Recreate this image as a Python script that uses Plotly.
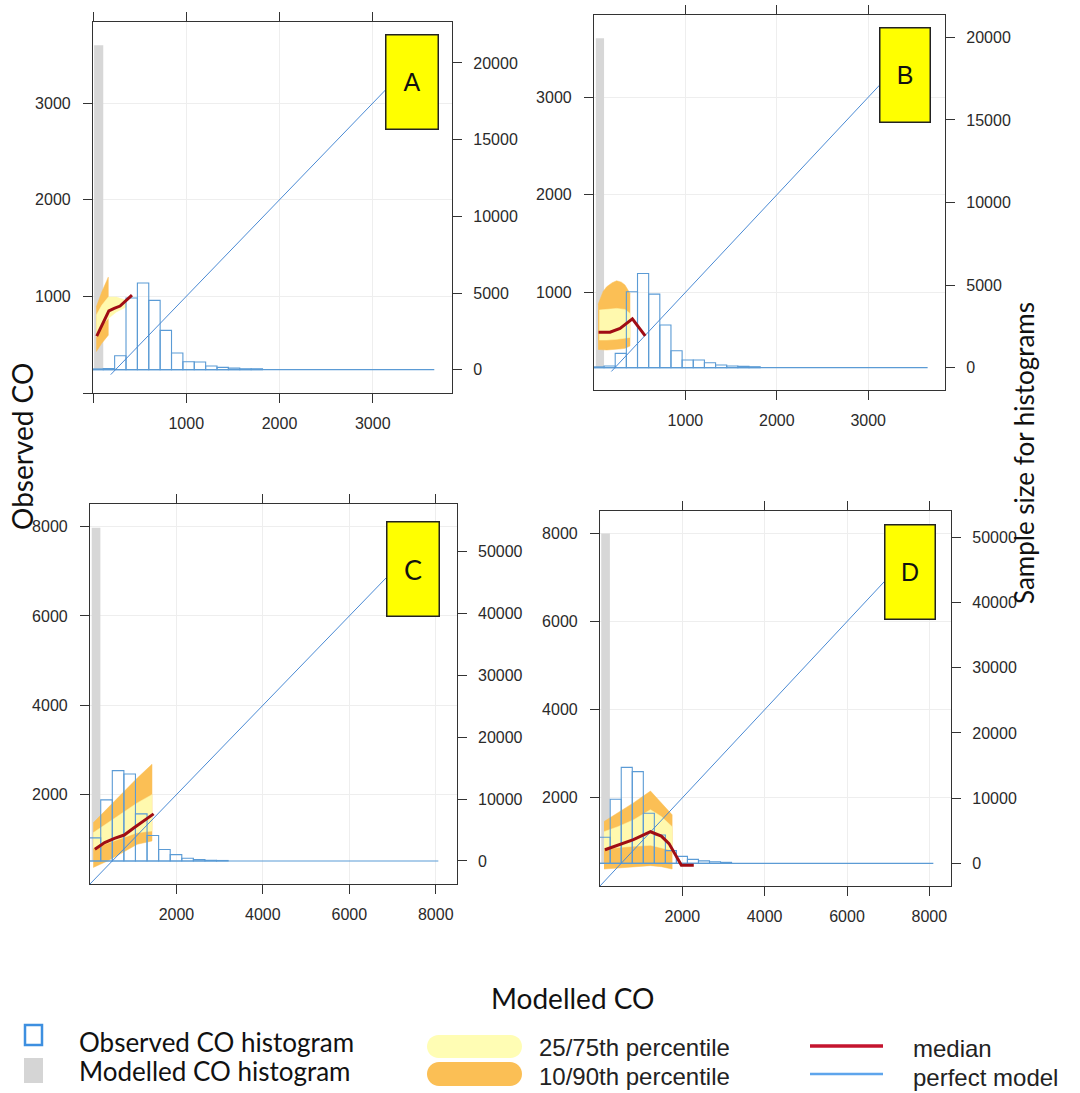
import plotly.graph_objects as go

W, H = 1080, 1093

# ---------------- DATA ----------------
panel_labels = ["A", "B", "C", "D"]

# observed CO histogram (bin edges on Modelled CO axis, counts on right axis)
A_bin_edges = [-12, 110, 232, 354, 476, 598, 720, 842, 964, 1086, 1208, 1330, 1452, 1574, 1696, 1818]
A_obs_counts = [50, 80, 913, 4674, 5652, 4522, 2565, 1087, 522, 500, 240, 150, 100, 60, 60]
B_bin_edges = [-12, 110, 232, 354, 476, 598, 720, 842, 964, 1086, 1208, 1330, 1452, 1574, 1696, 1818]
B_obs_counts = [50, 100, 867, 4597, 5706, 4456, 2581, 1028, 464, 464, 302, 160, 100, 80, 60]
C_bin_edges = [-20, 248, 516, 784, 1052, 1320, 1588, 1856, 2124, 2392, 2660, 2928, 3196]
C_obs_counts = [3740, 9880, 14610, 14070, 7620, 4120, 1860, 1020, 430, 215, 110, 80]
D_bin_edges = [-20, 248, 516, 784, 1052, 1320, 1588, 1856, 2124, 2392, 2660, 2928, 3196]
D_obs_counts = [3990, 9820, 14720, 14060, 7670, 4350, 1940, 1070, 610, 380, 230, 150]

# observed histogram extent (zero-count bins continue to this value)
A_obs_max, B_obs_max, C_obs_max, D_obs_max = 3660, 3650, 8060, 8097

# modelled CO histogram (single populated bin)
A_mod_bin, A_mod_count = [12, 110], 21150
B_mod_bin, B_mod_count = [20, 110], 19940
C_mod_bin, C_mod_count = [40, 240], 53880
D_mod_bin, D_mod_count = [30, 240], 50610

# perfect model (1:1) extent
A_perfect = [190, 3650]
B_perfect = [190, 3650]
C_perfect = [0, 8000]
D_perfect = [0, 8000]

# 10/90th percentile band
A_q10_x = [35, 94, 164]
A_p10 = [428, 514, 599]
A_p90 = [890, 1045, 1199]
B_q10_x = [45, 100, 139, 200, 248, 300, 339, 394]
B_p10 = [416, 412, 410, 412, 416, 422, 427, 451]
B_p90 = [880, 1010, 1058, 1100, 1119, 1105, 1075, 990]
C_q10_x = [75, 415, 755, 1094, 1434]
C_p10 = [370, 519, 704, 889, 963]
C_p90 = [1370, 1704, 2037, 2370, 2681]
D_q10_x = [98, 436, 812, 1226, 1489, 1752]
D_p10 = [385, 408, 438, 462, 438, 385]
D_p90 = [1462, 1654, 1885, 2154, 1885, 1615]

# 25/75th percentile band
A_q25_x = [35, 94, 164, 251, 355]
A_p25 = [582, 702, 771, 839, 890]
A_p75 = [805, 908, 993, 993, 959]
B_q25_x = [58, 139, 248, 339, 394]
B_p25 = [512, 512, 519, 529, 539]
B_p75 = [819, 826, 836, 826, 785]
C_q25_x = [75, 415, 755, 1094, 1434]
C_p25 = [800, 926, 1037, 1148, 1185]
C_p75 = [1148, 1370, 1593, 1815, 2000]
D_q25_x = [98, 436, 812, 1226, 1489, 1752]
D_p25 = [846, 869, 900, 923, 869, 808]
D_p75 = [1231, 1346, 1500, 1731, 1577, 1346]

# median
A_med_x = [40, 170, 227, 290, 418]
A_med_y = [588, 850, 876, 900, 1013]
B_med_x = [50, 175, 285, 420, 560]
B_med_y = [592, 592, 631, 730, 555]
C_med_x = [113, 340, 566, 792, 1019, 1245, 1472]
C_med_y = [778, 926, 1022, 1096, 1259, 1422, 1570]
D_med_x = [120, 436, 812, 1226, 1489, 1677, 1827, 1977, 2278]
D_med_y = [823, 923, 1054, 1231, 1131, 962, 731, 470, 470]

# tick labels
A_co_ticks = [0, 1000, 2000, 3000]
A_co_text = ["", "1000", "2000", "3000"]
B_co_ticks = [1000, 2000, 3000]
B_co_text = ["1000", "2000", "3000"]
C_co_ticks = [2000, 4000, 6000, 8000]
C_co_text = ["2000", "4000", "6000", "8000"]
D_co_ticks = C_co_ticks
D_co_text = C_co_text
AB_count_ticks = [0, 5000, 10000, 15000, 20000]
CD_count_ticks = [0, 10000, 20000, 30000, 40000, 50000]

# ---------------- STYLE / LAYOUT ----------------
GREY = "#d7d7d7"
ORANGE = "#fbbf55"
YELLOW = "#fff9ae"
HIST = "#5b9bd5"
PERF = "#4a8ad4"
MED = "#a00d14"
AX = "#333333"
TICKFONT = dict(family="Liberation Sans, Arial", size=16, color="#2a2a2a")

def px_x(p):
    return p / W

def px_y(p):
    return 1 - p / H

panels = [
    dict(edges=A_bin_edges, counts=A_obs_counts, obs_max=A_obs_max, mod_bin=A_mod_bin, mod_count=A_mod_count,
         perfect=A_perfect, q10x=A_q10_x, p10=A_p10, p90=A_p90, q25x=A_q25_x, p25=A_p25, p75=A_p75,
         mx=A_med_x, my=A_med_y, ticks=A_co_ticks, text=A_co_text, cticks=AB_count_ticks,
         xdom=[93, 452], ydom=[22, 393], xr=[0, 3850], yr=[0, 3840], cr=[-1520, 22670],
         box=(412.2, 82.5, 51), lab_font="Liberation Sans, Arial", lab_size=25),
    dict(edges=B_bin_edges, counts=B_obs_counts, obs_max=B_obs_max, mod_bin=B_mod_bin, mod_count=B_mod_count,
         perfect=B_perfect, q10x=B_q10_x, p10=B_p10, p90=B_p90, q25x=B_q25_x, p25=B_p25, p75=B_p75,
         mx=B_med_x, my=B_med_y, ticks=B_co_ticks, text=B_co_text, cticks=AB_count_ticks,
         xdom=[594, 945], ydom=[15, 390], xr=[0, 3840], yr=[0, 3843], cr=[-1350, 21350],
         box=(905.3, 75.2, 49), lab_font="Liberation Sans, Arial", lab_size=25),
    dict(edges=C_bin_edges, counts=C_obs_counts, obs_max=C_obs_max, mod_bin=C_mod_bin, mod_count=C_mod_count,
         perfect=C_perfect, q10x=C_q10_x, p10=C_p10, p90=C_p90, q25x=C_q25_x, p25=C_p25, p75=C_p75,
         mx=C_med_x, my=C_med_y, ticks=C_co_ticks, text=C_co_text, cticks=CD_count_ticks,
         xdom=[90, 456.7], ydom=[504, 884], xr=[0, 8485], yr=[0, 8506], cr=[-3720, 57700],
         box=(413.3, 569.2, 51), lab_font="Lato, Open Sans", lab_size=27),
    dict(edges=D_bin_edges, counts=D_obs_counts, obs_max=D_obs_max, mod_bin=D_mod_bin, mod_count=D_mod_count,
         perfect=D_perfect, q10x=D_q10_x, p10=D_p10, p90=D_p90, q25x=D_q25_x, p25=D_p25, p75=D_p75,
         mx=D_med_x, my=D_med_y, ticks=D_co_ticks, text=D_co_text, cticks=CD_count_ticks,
         xdom=[600, 951], ydom=[510.7, 886], xr=[0, 8526], yr=[0, 8515], cr=[-3480, 54090],
         box=(910.0, 571.7, 49), lab_font="Liberation Sans, Arial", lab_size=25),
]

fig = go.Figure()
layout = {}
annotations = []
shapes = []

def axname(prefix, n):
    return prefix if n == 1 else f"{prefix}{n}"

for i, P in enumerate(panels):
    xn = i + 1
    base = 4 * i + 1
    xa = axname("x", xn)
    ya = [axname("y", base + k) for k in range(4)]

    # modelled histogram (grey) on base count axis
    m0, m1 = P["mod_bin"]
    fig.add_trace(go.Bar(x=[(m0 + m1) / 2], y=[P["mod_count"]], width=[m1 - m0],
                         marker=dict(color=GREY, line=dict(width=0)),
                         xaxis=xa, yaxis=ya[0], showlegend=False, hoverinfo="skip"))
    # percentile bands on CO axis
    fig.add_trace(go.Scatter(x=P["q10x"] + P["q10x"][::-1], y=P["p90"] + P["p10"][::-1],
                             fill="toself", fillcolor=ORANGE, mode="lines",
                             line=dict(width=0.5, color=ORANGE),
                             xaxis=xa, yaxis=ya[1], showlegend=False, hoverinfo="skip"))
    fig.add_trace(go.Scatter(x=P["q25x"] + P["q25x"][::-1], y=P["p75"] + P["p25"][::-1],
                             fill="toself", fillcolor=YELLOW, mode="lines",
                             line=dict(width=0.5, color=YELLOW),
                             xaxis=xa, yaxis=ya[1], showlegend=False, hoverinfo="skip"))
    # observed histogram
    e = P["edges"]
    centers = [(e[k] + e[k + 1]) / 2 for k in range(len(e) - 1)]
    widths = [e[k + 1] - e[k] for k in range(len(e) - 1)]
    fig.add_trace(go.Bar(x=centers, y=P["counts"], width=widths,
                         marker=dict(color="rgba(255,255,255,0)", line=dict(color=HIST, width=1.1)),
                         xaxis=xa, yaxis=ya[2], showlegend=False, hoverinfo="skip"))
    fig.add_trace(go.Scatter(x=[0, P["obs_max"]], y=[0, 0], mode="lines",
                             line=dict(color=HIST, width=1.2),
                             xaxis=xa, yaxis=ya[2], showlegend=False, hoverinfo="skip"))
    # perfect model and median
    fig.add_trace(go.Scatter(x=P["perfect"], y=P["perfect"], mode="lines",
                             line=dict(color=PERF, width=1),
                             xaxis=xa, yaxis=ya[3], showlegend=False, hoverinfo="skip"))
    fig.add_trace(go.Scatter(x=P["mx"], y=P["my"], mode="lines",
                             line=dict(color=MED, width=3),
                             xaxis=xa, yaxis=ya[3], showlegend=False, hoverinfo="skip"))

    xd = [px_x(P["xdom"][0]), px_x(P["xdom"][1])]
    yd = [px_y(P["ydom"][1]), px_y(P["ydom"][0])]
    common = dict(showline=True, linecolor=AX, linewidth=1.2, ticks="outside", ticklen=9,
                  tickcolor=AX, tickwidth=1.2, tickfont=TICKFONT, zeroline=False)
    layout["xaxis" if xn == 1 else f"xaxis{xn}"] = dict(
        domain=xd, range=P["xr"], anchor=ya[0], tickmode="array", tickvals=P["ticks"],
        ticktext=P["text"], mirror="ticks", showgrid=True, gridcolor="#eeeeee",
        ticklabelstandoff=7, **common)
    layout["yaxis" if base == 1 else f"yaxis{base}"] = dict(
        domain=yd, range=P["cr"], anchor=xa, side="right", tickmode="array",
        tickvals=P["cticks"], ticktext=[str(v) for v in P["cticks"]], showgrid=False,
        ticklabelstandoff=8, **common)
    layout[f"yaxis{base + 1}"] = dict(
        domain=yd, range=P["yr"], anchor=xa, side="left", overlaying=ya[0],
        tickmode="array", tickvals=P["ticks"], ticktext=P["text"], showgrid=True,
        gridcolor="#eeeeee", ticklabelstandoff=9, **common)
    layout[f"yaxis{base + 2}"] = dict(domain=yd, range=P["cr"], anchor=xa, overlaying=ya[0],
                                      visible=False)
    layout[f"yaxis{base + 3}"] = dict(domain=yd, range=P["yr"], anchor=xa, overlaying=ya[0],
                                      visible=False)

    cx, cy, bw = P["box"]
    annotations.append(dict(text=panel_labels[i], xref="paper", yref="paper",
                            x=px_x(cx), y=px_y(cy), xanchor="center", yanchor="middle",
                            showarrow=False, bgcolor="#ffff00", bordercolor="#222222",
                            borderwidth=1.5, borderpad=0, width=bw, height=93,
                            font=dict(family=P["lab_font"], size=P["lab_size"], color="#111111")))

# axis titles
TITLEFONT = dict(family="Lato, Open Sans, sans-serif", size=28, color="#111111")
annotations.append(dict(text="Observed CO", xref="paper", yref="paper", x=px_x(22), y=px_y(447),
                        textangle=-90, showarrow=False, xanchor="center", yanchor="middle",
                        font=TITLEFONT))
annotations.append(dict(text="Sample size for histograms", xref="paper", yref="paper",
                        x=px_x(1024), y=px_y(453), textangle=-90, showarrow=False,
                        xanchor="center", yanchor="middle",
                        font=dict(family="Lato, Open Sans, sans-serif", size=26, color="#111111")))
annotations.append(dict(text="Modelled CO", xref="paper", yref="paper", x=px_x(572), y=px_y(998),
                        showarrow=False, xanchor="center", yanchor="middle", font=TITLEFONT))

# legend (artwork)
LEGL = dict(family="Lato, Open Sans, sans-serif", size=26, color="#111111")
LEGR = dict(family="Liberation Sans, Arial", size=24, color="#222222")

def rect(x0, y0, x1, y1, **kw):
    return dict(type="rect", xref="paper", yref="paper", x0=px_x(x0), x1=px_x(x1),
                y0=px_y(y1), y1=px_y(y0), **kw)

shapes.append(rect(25, 1025, 42, 1045, line=dict(color="#3d8fe0", width=2.5), fillcolor="white"))
shapes.append(rect(24, 1058, 43, 1083, line=dict(width=0), fillcolor="#d5d5d5"))
annotations.append(dict(text="Observed CO histogram", xref="paper", yref="paper", x=px_x(77),
                        y=px_y(1042), xanchor="left", yanchor="middle", showarrow=False, font=LEGL))
annotations.append(dict(text="Modelled CO histogram", xref="paper", yref="paper", x=px_x(77),
                        y=px_y(1071), xanchor="left", yanchor="middle", showarrow=False, font=LEGL))

def pill(x0, y0, x1, y1, color):
    r = (y1 - y0) / 2
    k = 0.5523 * r
    ym = (y0 + y1) / 2
    pts = [("M", [(x0 + r, y0)]), ("L", [(x1 - r, y0)]),
           ("C", [(x1 - r + k, y0), (x1, ym - k), (x1, ym)]),
           ("C", [(x1, ym + k), (x1 - r + k, y1), (x1 - r, y1)]),
           ("L", [(x0 + r, y1)]),
           ("C", [(x0 + r - k, y1), (x0, ym + k), (x0, ym)]),
           ("C", [(x0, ym - k), (x0 + r - k, y0), (x0 + r, y0)])]
    d = ""
    for cmd, ps in pts:
        d += cmd + " ".join(f"{px_x(a):.5f},{px_y(b):.5f}" for a, b in ps) + " "
    d += "Z"
    return dict(type="path", xref="paper", yref="paper", path=d, fillcolor=color,
                line=dict(width=0))

shapes.append(pill(427, 1035, 522, 1058, "#fffdb4"))
shapes.append(pill(427, 1062, 522, 1086, ORANGE))
annotations.append(dict(text="25/75th percentile", xref="paper", yref="paper", x=px_x(537),
                        y=px_y(1047), xanchor="left", yanchor="middle", showarrow=False, font=LEGR))
annotations.append(dict(text="10/90th percentile", xref="paper", yref="paper", x=px_x(537),
                        y=px_y(1076), xanchor="left", yanchor="middle", showarrow=False, font=LEGR))
shapes.append(dict(type="line", xref="paper", yref="paper", x0=px_x(810), x1=px_x(883),
                   y0=px_y(1046), y1=px_y(1046), line=dict(color="#c4142e", width=3.5)))
shapes.append(dict(type="line", xref="paper", yref="paper", x0=px_x(810), x1=px_x(883),
                   y0=px_y(1074), y1=px_y(1074), line=dict(color="#5ea5ec", width=2.5)))
annotations.append(dict(text="median", xref="paper", yref="paper", x=px_x(911),
                        y=px_y(1048), xanchor="left", yanchor="middle", showarrow=False, font=LEGR))
annotations.append(dict(text="perfect model", xref="paper", yref="paper", x=px_x(911),
                        y=px_y(1077), xanchor="left", yanchor="middle", showarrow=False, font=LEGR))

fig.update_layout(width=W, height=H, margin=dict(l=0, r=0, t=0, b=0),
                  paper_bgcolor="white", plot_bgcolor="white", barmode="overlay",
                  showlegend=False, annotations=annotations, shapes=shapes, **layout)

fig.write_html("out.html")
